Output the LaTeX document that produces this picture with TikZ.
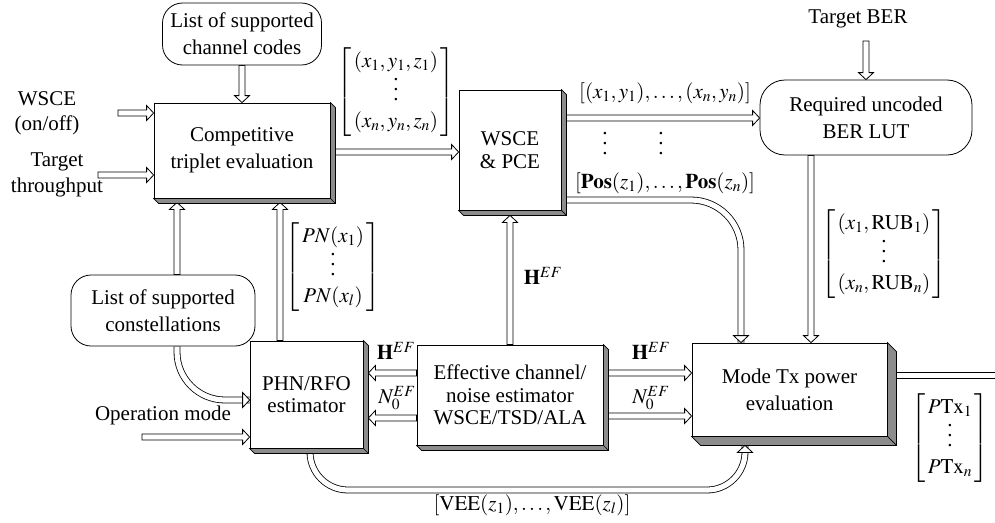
\documentclass[tikz,border=0pt]{standalone}
\usepackage{amsmath}
\usepackage{mathptmx}
\usepackage{fontspec}
\setmainfont{Liberation Serif}
\usetikzlibrary{calc,backgrounds}
\newcommand{\shbox}[2]{%
  \filldraw[fill=black!45, line width=0.7pt] (#1.north east) -- ++(#2,#2) -- ($(#1.south east)+(#2,#2)$) -- ($(#1.south west)+(#2,#2)$) -- (#1.south west) -- (#1.south east) -- cycle;
  \draw[line width=0.7pt] (#1.south east) -- ++(#2,#2);}
\newcommand{\vd}{\vbox{\baselineskip=10pt \lineskiplimit=0pt \kern2pt\hbox{.}\hbox{.}\hbox{.}}}
\newcommand{\mat}[2]{\left[\begin{array}{@{\,}c@{\,}}#1\\ \vd\\ #2\end{array}\right]}
% straight hollow arrow from #1 to #2
\newcommand{\sarrow}[2]{%
  \path let \p1=#1, \p2=#2, \n1={atan2(\y2-\y1,\x2-\x1)}, \n2={veclen(\x2-\x1,\y2-\y1)} in
    \pgfextra{\pgfmathsetmacro\tmpang{\n1}\pgfmathsetmacro\tmplen{\n2}\global\let\Arrang\tmpang\global\let\Arrlen\tmplen};
  \begin{scope}[shift={#1}, rotate=\Arrang]
  \filldraw[fill=white, line width=0.8pt, line join=miter]
    (0pt,-3pt) -- (\Arrlen pt-7pt,-3pt) -- (\Arrlen pt-7pt,-7.5pt) -- (\Arrlen pt,0pt)
    -- (\Arrlen pt-7pt,7.5pt) -- (\Arrlen pt-7pt,3pt) -- (0pt,3pt) -- cycle;
  \end{scope}}
\begin{document}
\begin{tikzpicture}[x=1pt,y=-1pt, font=\fontsize{21}{27}\selectfont,
  box/.style={draw, fill=white, line width=0.8pt, inner sep=2pt, align=center},
  tight/.style={font=\fontsize{21}{22.5}\selectfont},
  rbox/.style={box, rounded corners=20pt},
  shaft/.style={double, double distance=5.2pt, line width=0.8pt},
  hd/.pic={\filldraw[fill=white, line width=0.8pt, line join=miter] (0pt,0pt) -- (-7pt,-7.5pt) -- (-7pt,7.5pt) -- cycle;},
  lab/.style={inner sep=1pt}]
\useasboundingbox (0,0) rectangle (995,522);
% boxes
\node[rbox, minimum width=159pt, minimum height=62pt] (codes) at (242,34) {List of supported\\channel codes};
\node[box, minimum width=176pt, minimum height=95pt] (trip) at (242,150.5) {Competitive\\triplet evaluation};
\node[box, tight, minimum width=102pt, minimum height=120pt] (wsce) at (510,150) {WSCE\\\& PCE};
\node[rbox, rounded corners=25pt, minimum width=212pt, minimum height=75pt] (ber) at (866,117.5) {Required uncoded\\BER LUT};
\node[rbox, minimum width=184pt, minimum height=71pt] (const) at (163,310.5) {List of supported\\constellations};
\node[box, tight, minimum width=113pt, minimum height=107pt] (phn) at (306.5,394.5) {PHN/RFO\\estimator};
\node[box, tight, minimum width=186pt, minimum height=100pt] (eff) at (510,395) {Effective channel/\\noise estimator\\WSCE/TSD/ALA};
\node[box, minimum width=195pt, minimum height=93pt] (mode) at (789.5,389.5) {Mode Tx power\\evaluation};
\shbox{trip}{5}
\shbox{wsce}{5}
\shbox{phn}{5}
\shbox{eff}{5}
\shbox{mode}{9}
% texts
\node[lab, align=center, font=\fontsize{21}{25}\selectfont] (wscet) at (47,113) {WSCE\\(on/off)};
\node[lab, align=center, font=\fontsize{21}{26}\selectfont] (thrt) at (57,175) {Target\\throughput};
\node[lab] (tber) at (858,19) {Target BER};
\node[lab] (opt) at (163,415) {Operation mode};
\node[lab] (m1) at (396,92) {$\mat{(x_1,y_1,z_1)}{(x_n,y_n,z_n)}$};
\node[lab] (l1) at (665,93) {$[(x_1,y_1),\ldots,(x_n,y_n)]$};
\node[lab] (d1) at (605,143) {$\vd$};
\node[lab] (d2) at (661,143) {$\vd$};
\node[lab] (l2) at (665,183) {$[\mathbf{Pos}(z_1),\ldots,\mathbf{Pos}(z_n)]$};
\node[lab] (mpn) at (333,267) {$\mat{PN(x_1)}{PN(x_l)}$};
\node[lab] (hv) at (543,276) {$\mathbf{H}^{EF}$};
\node[lab] (hl) at (396,351) {$\mathbf{H}^{EF}$};
\node[lab] (nl) at (397,398) {$N_0^{EF}$};
\node[lab] (hr) at (651,351) {$\mathbf{H}^{EF}$};
\node[lab] (nr) at (651,398) {$N_0^{EF}$};
\node[lab] (mrub) at (884,254) {$\mat{(x_1,\mathrm{RUB}_1)}{(x_n,\mathrm{RUB}_n)}$};
\node[lab] (mptx) at (950,438) {$\mat{P\mathrm{Tx}_1}{P\mathrm{Tx}_n}$};
\node[lab] (vee) at (532,505) {$[\mathrm{VEE}(z_1),\ldots,\mathrm{VEE}(z_l)]$};
\coordinate (wsceIn) at (118,113);
\coordinate (thrIn) at (98,175);
\coordinate (opIn) at (142,437);
\coordinate (tberIn) at (866,41);
\coordinate (outEnd) at (1000,375);
% connectors
\begin{scope}[on background layer]
\sarrow{(codes.south)}{(trip.north)}
\sarrow{(wsceIn)}{(trip.west |- wsceIn)}
\sarrow{(thrIn)}{(trip.west |- thrIn)}
\sarrow{(tberIn)}{(ber.north)}
\sarrow{(opIn)}{(phn.west |- opIn)}
\sarrow{(trip.east |- 0,152)}{(wsce.west |- 0,152)}
\sarrow{(wsce.east |- 0,118)}{(ber.west |- 0,118)}
\sarrow{(ber.south -| 811,0)}{(mode.north -| 811,0)}
\sarrow{(eff.north)}{($(wsce.south)+(0,5)$)}
\sarrow{(phn.north -| 280,0)}{($(trip.south -| 280,0)+(0,4)$)}
\sarrow{(const.north -| 177,0)}{($(trip.south -| 177,0)+(0,4)$)}
\sarrow{(eff.west |- 0,373)}{($(phn.east |- 0,373)+(5,0)$)}
\sarrow{(eff.west |- 0,418)}{($(phn.east |- 0,418)+(5,0)$)}
\sarrow{(eff.east |- 0,373)}{(mode.west |- 0,373)}
\sarrow{(eff.east |- 0,416)}{(mode.west |- 0,416)}
% curved connectors
\draw[shaft, rounded corners=50pt] (wsce.east |- 0,200) -| (mode.north -| 741,0);
\pic[rotate=-90] at (mode.north -| 741,0) {hd};
\draw[shaft, rounded corners=48pt] (const.south -| 177,0) |- (phn.west |- 0,400);
\pic at (phn.west |- 0,400) {hd};
\draw[shaft, rounded corners=38pt] (phn.south -| 310,0) -- (310,490) -- (745,490) -- ($(mode.south -| 745,0)+(0,9)$);
\pic[rotate=90] at ($(mode.south -| 745,0)+(0,9)$) {hd};
% output
\draw[line width=0.8pt] ($(mode.east |- outEnd)+(0,-3)$) -- ($(outEnd)+(0,-3)$);
\draw[line width=0.8pt] ($(mode.east |- outEnd)+(0,3)$) -- ($(outEnd)+(0,3)$);
\end{scope}
\end{tikzpicture}
\end{document}
